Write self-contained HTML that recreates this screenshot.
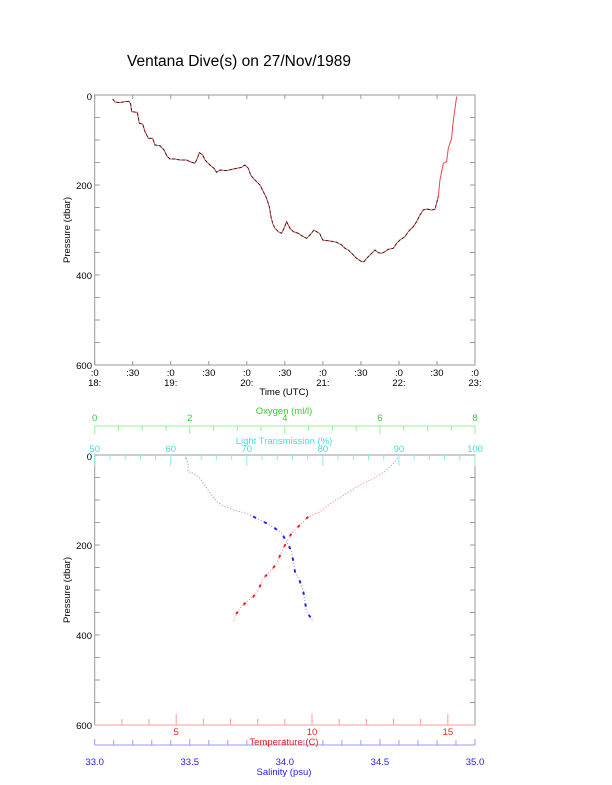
<!DOCTYPE html>
<html><head><meta charset="utf-8"><style>
html,body{margin:0;padding:0;background:#fff}
svg{display:block}
text{font-family:"Liberation Sans",sans-serif}
</style></head><body>
<svg width="612" height="785" viewBox="0 0 612 785" xmlns="http://www.w3.org/2000/svg">
<text x="127" y="66" font-size="15.5">Ventana Dive(s) on 27/Nov/1989</text>

<rect x="94.7" y="95" width="380.3" height="270" fill="none" stroke="#999" stroke-width="1"/>
<g id="topticks" stroke="#999" stroke-width="1"></g>
<g font-size="9.5" text-anchor="end">
<text x="92" y="100">0</text><text x="92" y="189">200</text><text x="92" y="279">400</text><text x="92" y="369">600</text>
</g>
<g font-size="9.5" text-anchor="middle" id="toplabels"></g>
<text x="284" y="395" font-size="9.5" text-anchor="middle">Time (UTC)</text>
<text transform="translate(70,230) rotate(-90)" font-size="9.5" text-anchor="middle">Pressure (dbar)</text>
<g transform="translate(60,80) scale(0.3333)">
<polyline fill="none" stroke="#e44" stroke-width="1" vector-effect="non-scaling-stroke" points="158,57 165,66 180,68 195,65 207,64 212,72 215,95 232,97 238,130 248,132 255,155 265,175 278,175 285,195 300,197 312,210 322,230 330,237 345,237 360,240 380,240 390,245 405,250 412,235 418,218 428,225 435,240 450,255 462,265 470,277 480,270 500,272 515,268 530,265 545,262 555,255 565,265 572,285 580,295 590,305 600,315 610,335 620,355 628,380 633,410 638,430 645,445 655,455 665,460 672,445 680,425 690,445 700,455 715,460 730,470 740,475 750,465 762,450 770,455 780,462 788,480 810,483 830,487 845,495 855,505 865,510 875,520 890,535 905,545 912,545 920,535 935,520 945,510 955,518 965,520 975,515 985,508 1000,505 1010,490 1020,480 1035,470 1045,455 1060,440 1070,425 1080,405 1090,390 1100,387 1115,390 1125,388 1135,350 1140,300 1150,250 1160,245 1165,205 1175,175 1178,140 1183,100 1190,50"/>
<polyline fill="none" stroke="#222" stroke-width="0.9" stroke-dasharray="3 2" vector-effect="non-scaling-stroke" points="158,57 165,66 180,68 195,65 207,64 212,72 215,95 232,97 238,130 248,132 255,155 265,175 278,175 285,195 300,197 312,210 322,230 330,237 345,237 360,240 380,240 390,245 405,250 412,235 418,218 428,225 435,240 450,255 462,265 470,277 480,270 500,272 515,268 530,265 545,262 555,255 565,265 572,285 580,295 590,305 600,315 610,335 620,355 628,380 633,410 638,430 645,445 655,455 665,460 672,445 680,425 690,445 700,455 715,460 730,470 740,475 750,465 762,450 770,455 780,462 788,480 810,483 830,487 845,495 855,505 865,510 875,520 890,535 905,545 912,545 920,535 935,520 945,510 955,518 965,520 975,515 985,508 1000,505 1010,490 1020,480 1035,470 1045,455 1060,440 1070,425 1080,405 1090,390 1100,387 1115,390 1125,388 1135,350"/>
</g>

<rect x="94.7" y="455" width="380.3" height="270" fill="none" stroke="#999" stroke-width="1"/>
<g id="botticks" stroke-width="1"></g>
<g font-size="9.5" text-anchor="end">
<text x="92" y="460">0</text><text x="92" y="549">200</text><text x="92" y="639">400</text><text x="92" y="729">600</text>
</g>
<text transform="translate(70,590) rotate(-90)" font-size="9.5" text-anchor="middle">Pressure (dbar)</text>
<g font-size="9.5" text-anchor="middle" id="botlabels"></g>
<text x="284" y="414" font-size="9.5" fill="#3c3" text-anchor="middle">Oxygen (ml/l)</text>
<text x="284" y="444" font-size="9.5" fill="#4dd" text-anchor="middle">Light Transmission (%)</text>
<text x="284" y="745" font-size="9.5" fill="#e22" text-anchor="middle">Temperature (C)</text>
<text x="284" y="775" font-size="9.5" fill="#22e" text-anchor="middle">Salinity (psu)</text>
<g transform="translate(60,405) scale(0.3333)">
<polyline fill="none" stroke="#88f" stroke-width="1" stroke-dasharray="1 2" vector-effect="non-scaling-stroke" points="378,160 385,175 383,200 400,205 420,220 440,250 455,270 470,290 485,300 520,315 560,325 580,335 600,345 620,355 645,370 665,385 680,410 695,440 700,470 705,500 720,530 730,560 735,590 740,620 760,650"/>
<polyline fill="none" stroke="#22e" stroke-width="2" stroke-dasharray="3 9" vector-effect="non-scaling-stroke" points="580,335 600,345 620,355 645,370 665,385 680,410 695,440 700,470 705,500 720,530 730,560 735,590 740,620 760,650"/>
<polyline fill="none" stroke="#f77" stroke-width="1" stroke-dasharray="1 2" vector-effect="non-scaling-stroke" points="1013,160 1000,175 975,200 940,220 900,240 860,265 820,290 800,305 780,320 745,335 730,350 710,370 695,385 680,410 665,440 650,475 635,495 610,520 595,555 580,575 560,590 540,610 530,625 520,650"/>
<polyline fill="none" stroke="#e22" stroke-width="2" stroke-dasharray="3 9" vector-effect="non-scaling-stroke" points="745,335 730,350 710,370 695,385 680,410 665,440 650,475 635,495 610,520 595,555 580,575 560,590 540,610 530,625 520,650"/>
</g>
</svg>
<script>
var NS="http://www.w3.org/2000/svg";
function L(g,x1,y1,x2,y2,c){var l=document.createElementNS(NS,"line");l.setAttribute("x1",x1);l.setAttribute("y1",y1);l.setAttribute("x2",x2);l.setAttribute("y2",y2);l.setAttribute("stroke",c||"#999");g.appendChild(l);}
function T(g,x,y,s,c){var t=document.createElementNS(NS,"text");t.setAttribute("x",x);t.setAttribute("y",y);t.textContent=s;if(c)t.setAttribute("fill",c);g.appendChild(t);}
var x0=94.7,x1=475;
var tt=document.getElementById("topticks"),tl=document.getElementById("toplabels");
for(var p=50;p<600;p+=50){var y=95+p*0.45;L(tt,x0,y,x0+5,y);L(tt,x1,y,x1-5,y);}
for(var i=0;i<=10;i++){var x=x0+i*38.03;L(tt,x,365,x,361);L(tt,x,95,x,99);
 T(tl,x,376,i%2?":30":":0");if(i%2==0)T(tl,x,386,(18+i/2)+":");}
var bt=document.getElementById("botticks"),bl=document.getElementById("botlabels");
for(var p=50;p<600;p+=50){var y=455+p*0.45;L(bt,x0,y,x0+5,y);L(bt,x1,y,x1-5,y);}
L(bt,x0,426,x1,426,"#9e9");
for(var i=0;i<=16;i++){var x=x0+i*380.3/16;L(bt,x,426,x,i%4==0?434:431,"#9e9");}
for(var i=0;i<=4;i++)T(bl,x0+i*95.075,421,String(i*2),"#3c3");
for(var i=0;i<=25;i++){var x=x0+i*380.3/25;L(bt,x,455,x,i%5==0?466:460,"#8ee");}
for(var i=0;i<=5;i++)T(bl,x0+i*76.06,452,String(50+i*10),"#4dd");
L(bt,x0,725,x1,725,"#f99");
for(var t=3;t<=15;t++){var x=x0+(t-2)*27.164;L(bt,x,725,x,t%5==0?714:719,"#f99");}
[5,10,15].forEach(function(t){T(bl,x0+(t-2)*27.164,735,String(t),"#e22");});
L(bt,x0,745,x1,745,"#99f");
for(var i=0;i<=20;i++){var x=x0+i*19.015;L(bt,x,745,x,i%5==0?739:740,"#99f");}
for(var i=0;i<=4;i++)T(bl,x0+i*95.075,765,(33+i*0.5).toFixed(1),"#22e");
</script>
</body></html>
